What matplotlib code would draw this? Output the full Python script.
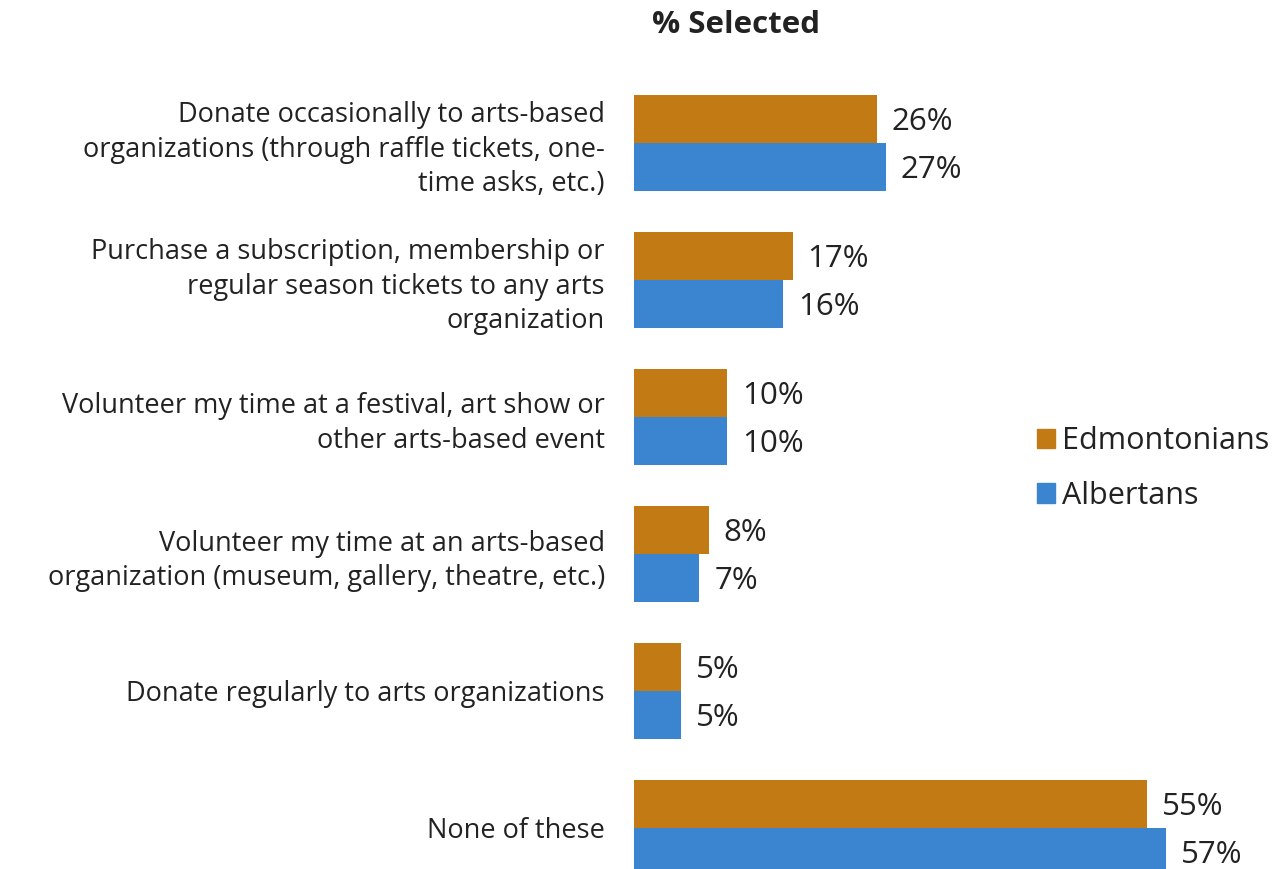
import matplotlib
matplotlib.use("Agg")
import matplotlib.pyplot as plt
import numpy as np
from matplotlib.patches import Patch

plt.rcParams["font.family"] = ["Open Sans", "DejaVu Sans"]

categories = [
    "Donate occasionally to arts-based\norganizations (through raffle tickets, one-\ntime asks, etc.)",
    "Purchase a subscription, membership or\nregular season tickets to any arts\norganization",
    "Volunteer my time at a festival, art show or\nother arts-based event",
    "Volunteer my time at an arts-based\norganization (museum, gallery, theatre, etc.)",
    "Donate regularly to arts organizations",
    "None of these",
]
edmontonians = [26, 17, 10, 8, 5, 55]
albertans = [27, 16, 10, 7, 5, 57]

ORANGE = "#C27A14"
BLUE = "#3A84D0"
TEXT = "#222222"

W, H = 1274, 869
fig = plt.figure(figsize=(W / 100, H / 100), dpi=100)
# bar area starts at x=634px, 9.33 px per percent; one category = 137 px
top_px = 74.5
ax = fig.add_axes([634 / W, 0, 60 * 9.33 / W, (H - top_px) / H])

n = len(categories)
y = np.arange(n)
h = 0.35
ax.barh(y - h / 2, edmontonians, height=h, color=ORANGE, label="Edmontonians")
ax.barh(y + h / 2, albertans, height=h, color=BLUE, label="Albertans")

for yi, v in zip(y, edmontonians):
    ax.text(v + 1.6, yi - h / 2 + 0.02, f"{v}%", va="center", ha="left", fontsize=22.5, color=TEXT)
for yi, v in zip(y, albertans):
    ax.text(v + 1.6, yi + h / 2 + 0.02, f"{v}%", va="center", ha="left", fontsize=22.5, color=TEXT)

ax.set_xlim(0, 60)
ax.set_ylim(-0.5 + (H - top_px) / 137, -0.5)
ax.set_yticks(y)
ax.set_yticklabels(categories, fontsize=19.5, color=TEXT, linespacing=1.3)
ax.tick_params(axis="y", length=0, pad=21)
ax.set_xticks([])
for s in ax.spines.values():
    s.set_visible(False)

fig.text(736 / W, 1 - 25 / H, "% Selected", ha="center", va="center",
         fontsize=22.5, fontweight="bold", color=TEXT)

handles = [Patch(color=ORANGE, label="Edmontonians"), Patch(color=BLUE, label="Albertans")]
fig.legend(handles=handles, loc="center left", bbox_to_anchor=(1009 / W, 1 - 468.5 / H),
           frameon=False, fontsize=22, handlelength=0.6, handleheight=0.6,
           handletextpad=0.23, labelspacing=0.8, labelcolor=TEXT)

fig.savefig("out.png", dpi=100)
